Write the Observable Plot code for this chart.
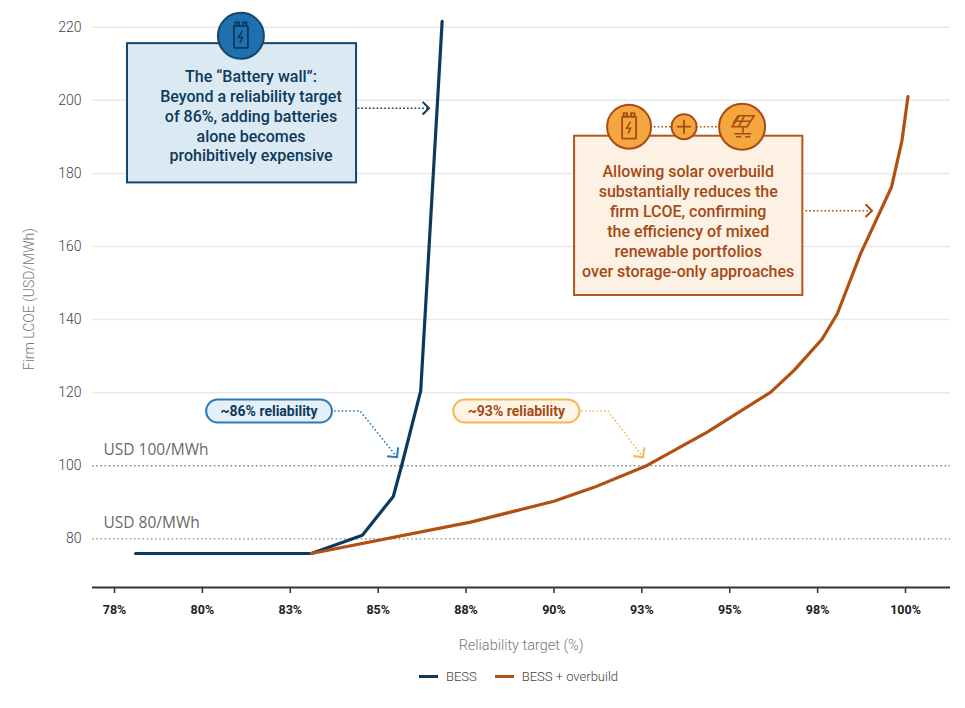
<!DOCTYPE html>
<html><head><meta charset="utf-8">
<script src="https://cdn.jsdelivr.net/npm/d3@7"></script>
<script src="https://cdn.jsdelivr.net/npm/@observablehq/plot@0.6"></script>
<style>
body{margin:0;background:#fff;font-family:Roboto,sans-serif;}
#legend{display:flex;justify-content:center;align-items:center;gap:18px;font-size:13px;color:#444;font-weight:300;margin-top:9px;padding-left:72px;}
#legend .item{display:flex;align-items:center;gap:8px;}
#legend .sw{width:19px;height:3px;display:inline-block;}
</style></head><body>
<div id="chart"></div>
<div id="legend"></div>
<script>
// ---- data ----
const seriesNames = ["BESS", "BESS + overbuild"];
const seriesColors = ["#0d3a5c", "#b24f13"];
const bessReliability = [78.1, 83.1, 84.55, 85.43, 85.68, 86.21, 86.82];
const bessLcoe        = [76,   76,   81.0,  91.6,  100.5, 120.5, 221.6];
const overReliability = [83.1, 87.63, 90.0, 91.14, 92.65, 94.36, 96.16, 96.83, 97.63, 98.06, 98.72, 99.6, 99.9, 100.07];
const overLcoe        = [76,   84.6,  90.3, 94.1,  100.1, 109.2, 120.1, 126.1, 134.7, 141.6, 158,   176.2, 189, 201];
const xTicks = [77.5, 80, 82.5, 85, 87.5, 90, 92.5, 95, 97.5, 100];
const yTicks = [80, 100, 120, 140, 160, 180, 200, 220];
const gridTicks = [120, 140, 160, 180, 200, 220];
const refLines = [80, 100];
const refLabels = ["USD 80/MWh", "USD 100/MWh"];
const xLabel = "Reliability target (%)";
const yLabel = "Firm LCOE (USD/MWh)";
const batteryNote = ["The \u201cBattery wall\u201d:", "Beyond a reliability target", "of 86%, adding batteries", "alone becomes", "prohibitively expensive"];
const overbuildNote = ["Allowing solar overbuild", "substantially reduces the", "firm LCOE, confirming", "the efficiency of mixed", "renewable portfolios", "over storage-only approaches"];
const pill86 = "~86% reliability";
const pill93 = "~93% reliability";

const rows = [
  ...bessReliability.map((x, i) => ({series: seriesNames[0], x, y: bessLcoe[i]})),
  ...overReliability.map((x, i) => ({series: seriesNames[1], x, y: overLcoe[i]}))
];

const W = 965, H = 660;
const yMin = 66.7;
const plot = Plot.plot({
  width: W, height: H,
  marginLeft: 92, marginRight: 15, marginTop: 19.4, marginBottom: 73,
  style: {fontFamily: "Roboto, sans-serif", background: "#fff"},
  x: {domain: [76.874, 101.28]},
  y: {domain: [yMin, 222]},
  color: {domain: seriesNames, range: seriesColors},
  marks: [
    Plot.gridY(gridTicks, {stroke: "#e8e9ec", strokeOpacity: 1, strokeWidth: 1.5}),
    Plot.ruleY(refLines, {stroke: "#8c8c8c", strokeDasharray: "1.6,2.6", strokeWidth: 1.4}),
    Plot.text(refLines, {y: d => d, text: (d, i) => refLabels[i], frameAnchor: "left", dx: 11, dy: -16,
      textAnchor: "start", fontSize: 15.5, fill: "#6a6a6a", fontFamily: "Open Sans, sans-serif"}),
    Plot.axisY(yTicks, {tickSize: 0, tickPadding: 11, fontSize: 14, fill: "#444", label: null, fontWeight: 300}),
    Plot.axisX(xTicks, {tickSize: 6, tickPadding: 12, tickFormat: d => Math.round(d) + "%", label: null,
      fontSize: 12.5, fontWeight: 700, fill: "#222", stroke: "#333", strokeWidth: 1.5}),
    Plot.ruleY([yMin], {stroke: "#333", strokeWidth: 2}),
    Plot.line(rows, {x: "x", y: "y", z: "series", stroke: "series", strokeWidth: 3.2, strokeLinejoin: "round"})
  ]
});
document.getElementById("chart").appendChild(plot);

// ---- annotations (positions expressed in data units, through the plot's scales) ----
const sx = plot.scale("x"), sy = plot.scale("y");
const X = v => sx.apply(v), Y = v => sy.apply(v);
const svg = d3.select(plot);
const g = svg.append("g");

// axis titles
g.append("text").attr("x", X(89.08)).attr("y", H - 10).attr("text-anchor", "middle")
  .attr("font-size", 14.5).attr("fill", "#777").attr("font-weight", 300).text(xLabel);
g.append("text").attr("transform", `translate(34,${(Y(222) + Y(yMin)) / 2 - 4}) rotate(-90)`)
  .attr("text-anchor", "middle").attr("font-size", 14).attr("fill", "#777").attr("font-weight", 300).text(yLabel);

function chevron(sel, tx, ty, angle, color, len) {
  const a1 = angle + Math.PI * 0.75, a2 = angle - Math.PI * 0.75;
  sel.append("polyline")
    .attr("points", `${tx + len * Math.cos(a1)},${ty + len * Math.sin(a1)} ${tx},${ty} ${tx + len * Math.cos(a2)},${ty + len * Math.sin(a2)}`)
    .attr("fill", "none").attr("stroke", color).attr("stroke-width", 2);
}
function dotted(sel, pts, color) {
  sel.append("polyline").attr("points", pts.map(p => p.join(",")).join(" "))
    .attr("fill", "none").attr("stroke", color).attr("stroke-width", 1.6).attr("stroke-dasharray", "1.6,2.2");
}
function battery(sel, cx, cy, color) {
  const b = sel.append("g").attr("transform", `translate(${cx},${cy})`).attr("fill", "none").attr("stroke", color).attr("stroke-width", 1.8);
  b.append("rect").attr("x", -7).attr("y", -10).attr("width", 14).attr("height", 22).attr("rx", 1);
  b.append("rect").attr("x", -5.5).attr("y", -13.5).attr("width", 3.5).attr("height", 3.5);
  b.append("rect").attr("x", 2).attr("y", -13.5).attr("width", 3.5).attr("height", 3.5);
  b.append("path").attr("d", "M1.5,-5 L-2.5,1.5 L1.5,1.5 L-1,7").attr("stroke-width", 1.6);
}

// Battery wall box
{
  const c = "#0d3a5c";
  const x1 = X(77.87), x2 = X(84.385), y1 = Y(215.5), y2 = Y(177.4);
  g.append("rect").attr("x", x1).attr("y", y1).attr("width", x2 - x1).attr("height", y2 - y1)
    .attr("fill", "#dbe9f3").attr("stroke", "#14456b").attr("stroke-width", 2);
  batteryNote.forEach((t, i) => g.append("text").attr("x", x1 + 124).attr("y", y1 + 33.5 + 19.8 * i)
    .attr("dy", "0.35em").attr("text-anchor", "middle").attr("font-size", 16).attr("font-weight", 500)
    .attr("fill", c).text(t));
  const cx = X(81.11), cy = Y(217.5);
  g.append("circle").attr("cx", cx).attr("cy", cy).attr("r", 23).attr("fill", "#1f70ae").attr("stroke", "#14456b").attr("stroke-width", 2);
  battery(g, cx, cy, "#0d3a5c");
  const ay = Y(197.7);
  dotted(g, [[X(84.43), ay], [X(86.42), ay]], c);
  chevron(g, X(86.46), ay, 0, c, 9);
}

// Overbuild box
{
  const c = "#a34a16", st = "#a54c14";
  const x1 = X(90.587), x2 = X(97.08), y1 = Y(190.18), y2 = Y(146.6);
  g.append("rect").attr("x", x1).attr("y", y1).attr("width", x2 - x1).attr("height", y2 - y1)
    .attr("fill", "#fdf1e3").attr("stroke", "#b5561c").attr("stroke-width", 2);
  overbuildNote.forEach((t, i) => g.append("text").attr("x", (x1 + x2) / 2).attr("y", y1 + 35.3 + 20.1 * i)
    .attr("dy", "0.35em").attr("text-anchor", "middle").attr("font-size", 16).attr("font-weight", 500)
    .attr("fill", c).text(t));
  const cy = y1 - 9;
  const c1 = x1 + 55, c2 = x1 + 110, c3 = x1 + 168;
  dotted(g, [[c1 + 21, cy], [c2 - 12, cy]], st);
  dotted(g, [[c2 + 12, cy], [c3 - 21, cy]], st);
  [[c1, 22], [c2, 12.5], [c3, 23]].forEach(([cx, r]) =>
    g.append("circle").attr("cx", cx).attr("cy", cy).attr("r", r).attr("fill", "#f6a63e").attr("stroke", st).attr("stroke-width", 2));
  battery(g, c1, cy, st);
  g.append("path").attr("d", `M${c2 - 7},${cy} H${c2 + 7} M${c2},${cy - 7} V${cy + 7}`).attr("stroke", st).attr("stroke-width", 1.8);
  const s = g.append("g").attr("transform", `translate(${c3},${cy})`).attr("fill", "none").attr("stroke", st).attr("stroke-width", 1.6);
  s.append("path").attr("d", "M-10,0 L-3,-11 L12,-11 L5,0 Z M-6.5,-5.5 L8.5,-5.5 M2.5,-11 L-3.5,0 M-4,-11 L-9,-3");
  s.append("path").attr("d", "M1,0 V6 M-8,7 H9 M-6,10 H-1 M3,10 H8");
  const ay = Y(169.66);
  dotted(g, [[X(97.17), ay], [X(99.0), ay]], st);
  chevron(g, X(99.06), ay, 0, st, 9);
}

// Pills with dotted leaders
function pill(xa, xb, yc, text, fill, stroke, textColor) {
  const x1 = X(xa), x2 = X(xb), yy = Y(yc);
  g.append("rect").attr("x", x1).attr("y", yy - 11.5).attr("width", x2 - x1).attr("height", 23).attr("rx", 11.5)
    .attr("fill", fill).attr("stroke", stroke).attr("stroke-width", 2);
  g.append("text").attr("x", (x1 + x2) / 2).attr("y", yy).attr("dy", "0.35em").attr("text-anchor", "middle")
    .attr("font-size", 14).attr("font-weight", 700).attr("fill", textColor).text(text);
}
function leader(xs, ys, color) {
  const pts = xs.map((x, i) => [X(x), Y(ys[i])]);
  dotted(g, pts, color);
  const [p, q] = pts.slice(-2);
  chevron(g, q[0], q[1], Math.atan2(q[1] - p[1], q[0] - p[0]), color, 10);
}
pill(80.12, 83.70, 114.86, pill86, "#e4eff7", "#2b7bbb", "#0d3a5c");
leader([83.76, 84.50, 85.55], [114.86, 114.86, 102.2], "#2b7bbb");
pill(87.15, 90.74, 114.86, pill93, "#fff5e6", "#f4b957", "#a34a16");
leader([90.79, 91.55, 92.55], [114.86, 114.86, 102.2], "#f4b957");

// Legend
const lg = d3.select("#legend");
seriesNames.forEach((n, i) => {
  const it = lg.append("span").attr("class", "item");
  it.append("span").attr("class", "sw").style("background", seriesColors[i]);
  it.append("span").text(n);
});
</script>
</body></html>
